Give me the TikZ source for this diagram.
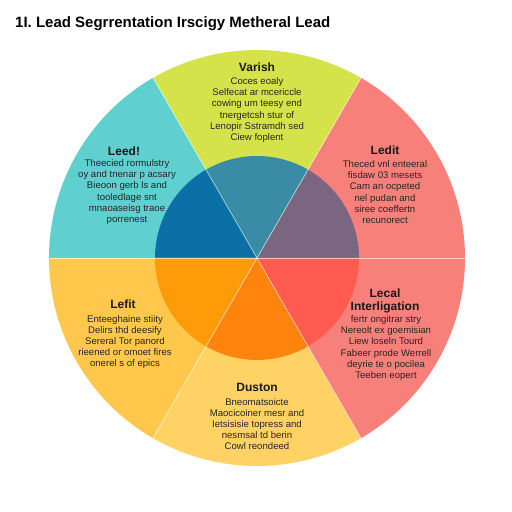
\documentclass[tikz,border=0pt]{standalone}
\usepackage{fontspec}
\setmainfont{Liberation Sans}
\usetikzlibrary{positioning}
\definecolor{ccyan}{HTML}{5FCFD0}
\definecolor{clime}{HTML}{D6E24A}
\definecolor{csalmon}{HTML}{F8807A}
\definecolor{camber}{HTML}{FFC84C}
\definecolor{csand}{HTML}{FFD266}
\definecolor{cblue}{HTML}{0B70A6}
\definecolor{cteal}{HTML}{3A8CA6}
\definecolor{cplum}{HTML}{7A6680}
\definecolor{corange}{HTML}{FF9A08}
\definecolor{cdeep}{HTML}{FF840E}
\definecolor{cred}{HTML}{FF5B50}
\tikzset{
  every picture/.style={x=1pt, y=1pt},
  head/.style={font=\fontsize{12}{12.5}\selectfont\bfseries, align=center, inner sep=0pt, text=black!90},
  body/.style={font=\fontsize{9.6}{11.2}\selectfont, align=center, inner sep=0pt, text=black!85},
  seam/.style={draw=white, line width=0.7pt, opacity=0.6},
}

\begin{document}
\begin{tikzpicture}
  \useasboundingbox[fill=white] (0,0) rectangle (512,512);
  \coordinate (o) at (257,254);
  % outer ring and inner disc
  \foreach \a/\outer/\inner in {0/csalmon/cplum, 60/clime/cteal, 120/ccyan/cblue,
                               180/camber/corange, 240/csand/cdeep, 300/csalmon/cred} {
    \fill[\outer] (o) -- ++(\a:208pt) arc[start angle=\a, end angle=\a+60, radius=208pt] -- cycle;
    \fill[\inner] (o) -- ++(\a:102pt) arc[start angle=\a, end angle=\a+60, radius=102pt] -- cycle;
  }
  \foreach \a in {0,60,...,300} \draw[seam] (o) -- ++(\a:208pt);

  \node[font=\fontsize{15}{17}\selectfont\bfseries, anchor=west, inner sep=0pt] (title) at (15,488)
    {1I. Lead Segrrentation Irscigy Metheral Lead};

  \node[head] (vh) at (257,445) {Varish};
  \node[body] (vb) at (257,402) {Coces eoaly\\Selfecat ar mcericcle\\cowing um teesy end\\tnergetcsh stur of\\Lenopir Sstramdh sed\\Ciew foplent};

  \node[head] (lh) at (124,361) {Leed!};
  \node[body] (lb) at (127,320) {Theecied rormulstry\\oy and tnenar p acsary\\Bieoon gerb ls and\\tooledlage snt\\mnaoaseisg traoe\\porrenest};

  \node[head] (rh) at (385,362) {Ledit};
  \node[body] (rb) at (385,320) {Theced vnl enteeral\\fisdaw 03 mesets\\Cam an ocpeted\\nel pudan and\\siree coeffertn\\recunorect};

  \node[head] (fh) at (123,208) {Lefit};
  \node[body] (fb) at (125,170) {Enteeghaine stiity\\Delirs thd deesify\\Sereral Tor panord\\rieened or omoet fires\\onerel s of epics};

  \node[head] (ih) at (385,211) {Lecal\\Interligation};
  \node[body] (ib) at (386,164) {fertr ongitrar stry\\Nereolt ex goemisian\\Liew loseln Tourd\\Fabeer prode Werrell\\deyrie te o pocilea\\Teeben eopert};

  \node[head] (dh) at (257,125) {Duston};
  \node[body] (db) at (257,88) {Bneomatsoicte\\Maocicoiner mesr and\\Ietsisisie topress and\\nesmsal td berin\\Cowl reondeed};
\end{tikzpicture}
\end{document}
